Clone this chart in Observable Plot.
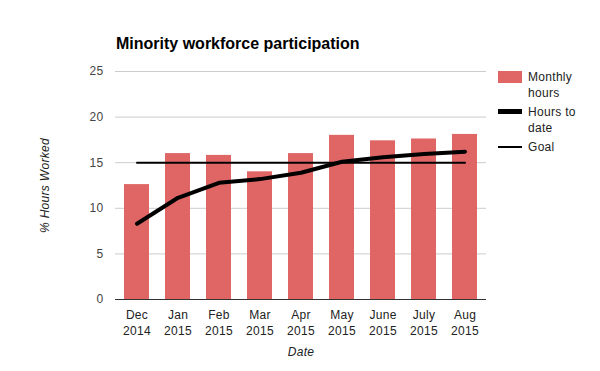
<!DOCTYPE html>
<html><head><meta charset="utf-8">
<script src="https://cdn.jsdelivr.net/npm/d3@7"></script>
<script src="https://cdn.jsdelivr.net/npm/@observablehq/plot@0.6"></script>
<style>
body{margin:0;background:#fff;font-family:"Liberation Sans",Arial,sans-serif;}
#wrap{position:relative;width:600px;height:371px;overflow:hidden;}
#title{position:absolute;left:116px;top:35px;font-size:16px;font-weight:bold;color:#000;white-space:nowrap;}
#legend{position:absolute;left:498px;top:69px;width:100px;font-size:12px;color:#222;}
.sw{position:absolute;left:0;}
.lt{position:absolute;left:30px;line-height:16px;white-space:nowrap;letter-spacing:0.3px;}
#wrap svg{position:absolute;left:0;top:0;}
</style></head><body>
<div id="wrap"></div>
<script>
const months = ["Dec 2014","Jan 2015","Feb 2015","Mar 2015","Apr 2015","May 2015","June 2015","July 2015","Aug 2015"];
const monthlyHours = [12.6, 16.0, 15.8, 14.0, 16.0, 18.0, 17.4, 17.6, 18.1];
const hoursToDate = [8.3, 11.15, 12.8, 13.2, 13.9, 15.1, 15.6, 15.95, 16.2];
const goal = 15;
const yTicks = [0, 5, 10, 15, 20, 25];
const seriesNames = ["Monthly hours", "Hours to date", "Goal"];
const title = "Minority workforce participation";
const yLabel = "% Hours Worked";
const xLabel = "Date";

const data = months.map((m, i) => ({month: m, monthly: monthlyHours[i], toDate: hoursToDate[i], goal}));

const chart = Plot.plot({
  width: 600, height: 371,
  marginLeft: 115, marginRight: 114, marginTop: 71, marginBottom: 72,
  style: {fontFamily: "'Liberation Sans', Arial, sans-serif", fontSize: "12px", background: "white", letterSpacing: "0.3px"},
  x: {type: "band", domain: months, paddingInner: 0.39, paddingOuter: 0.195},
  y: {domain: [0, 25]},
  marks: [
    Plot.gridY(yTicks, {stroke: "#ccc", strokeOpacity: 1}),
    Plot.barY(data, {x: "month", y: "monthly", fill: "#e06666"}),
    Plot.ruleY([0], {stroke: "#333", strokeWidth: 1}),
    Plot.line(data, {x: "month", y: "goal", stroke: "#000", strokeWidth: 2}),
    Plot.line(data, {x: "month", y: "toDate", stroke: "#000", strokeWidth: 4, strokeLinejoin: "round"}),
    Plot.axisY(yTicks, {tickSize: 0, tickPadding: 12, fill: "#444", fontSize: 12, label: null}),
    Plot.axisX({tickSize: 0, tickPadding: 8, fill: "#222", fontSize: 12, label: null, lineHeight: 1.35,
      tickFormat: d => d.replace(" ", "\n")}),
    Plot.text([yLabel], {frameAnchor: "left", dx: -70, rotate: -90, textAnchor: "middle", lineAnchor: "middle", fontStyle: "italic", fill: "#222", fontSize: 12}),
    Plot.text([xLabel], {frameAnchor: "bottom", dy: 53, textAnchor: "middle", lineAnchor: "middle", fontStyle: "italic", fill: "#222", fontSize: 12})
  ]
});

const wrap = document.getElementById("wrap");
wrap.appendChild(chart);
const t = document.createElement("div");
t.id = "title"; t.textContent = title; wrap.appendChild(t);

const legend = document.createElement("div");
legend.id = "legend";
const items = [
  {name: seriesNames[0], top: 0, sw: {top: 2, h: 12, w: 24, bg: "#e06666"}},
  {name: seriesNames[1], top: 35, sw: {top: 40, h: 5, w: 24, bg: "#000"}},
  {name: seriesNames[2], top: 70, sw: {top: 77, h: 2, w: 24, bg: "#000"}}
];
const wrapText = {"Monthly hours": "Monthly<br>hours", "Hours to date": "Hours to<br>date", "Goal": "Goal"};
items.forEach(it => {
  const s = document.createElement("div");
  s.className = "sw";
  s.style.cssText = `top:${it.sw.top}px;width:${it.sw.w}px;height:${it.sw.h}px;background:${it.sw.bg};`;
  legend.appendChild(s);
  const l = document.createElement("div");
  l.className = "lt";
  l.style.top = it.top + "px";
  l.innerHTML = wrapText[it.name];
  legend.appendChild(l);
});
wrap.appendChild(legend);
</script>
</body></html>
